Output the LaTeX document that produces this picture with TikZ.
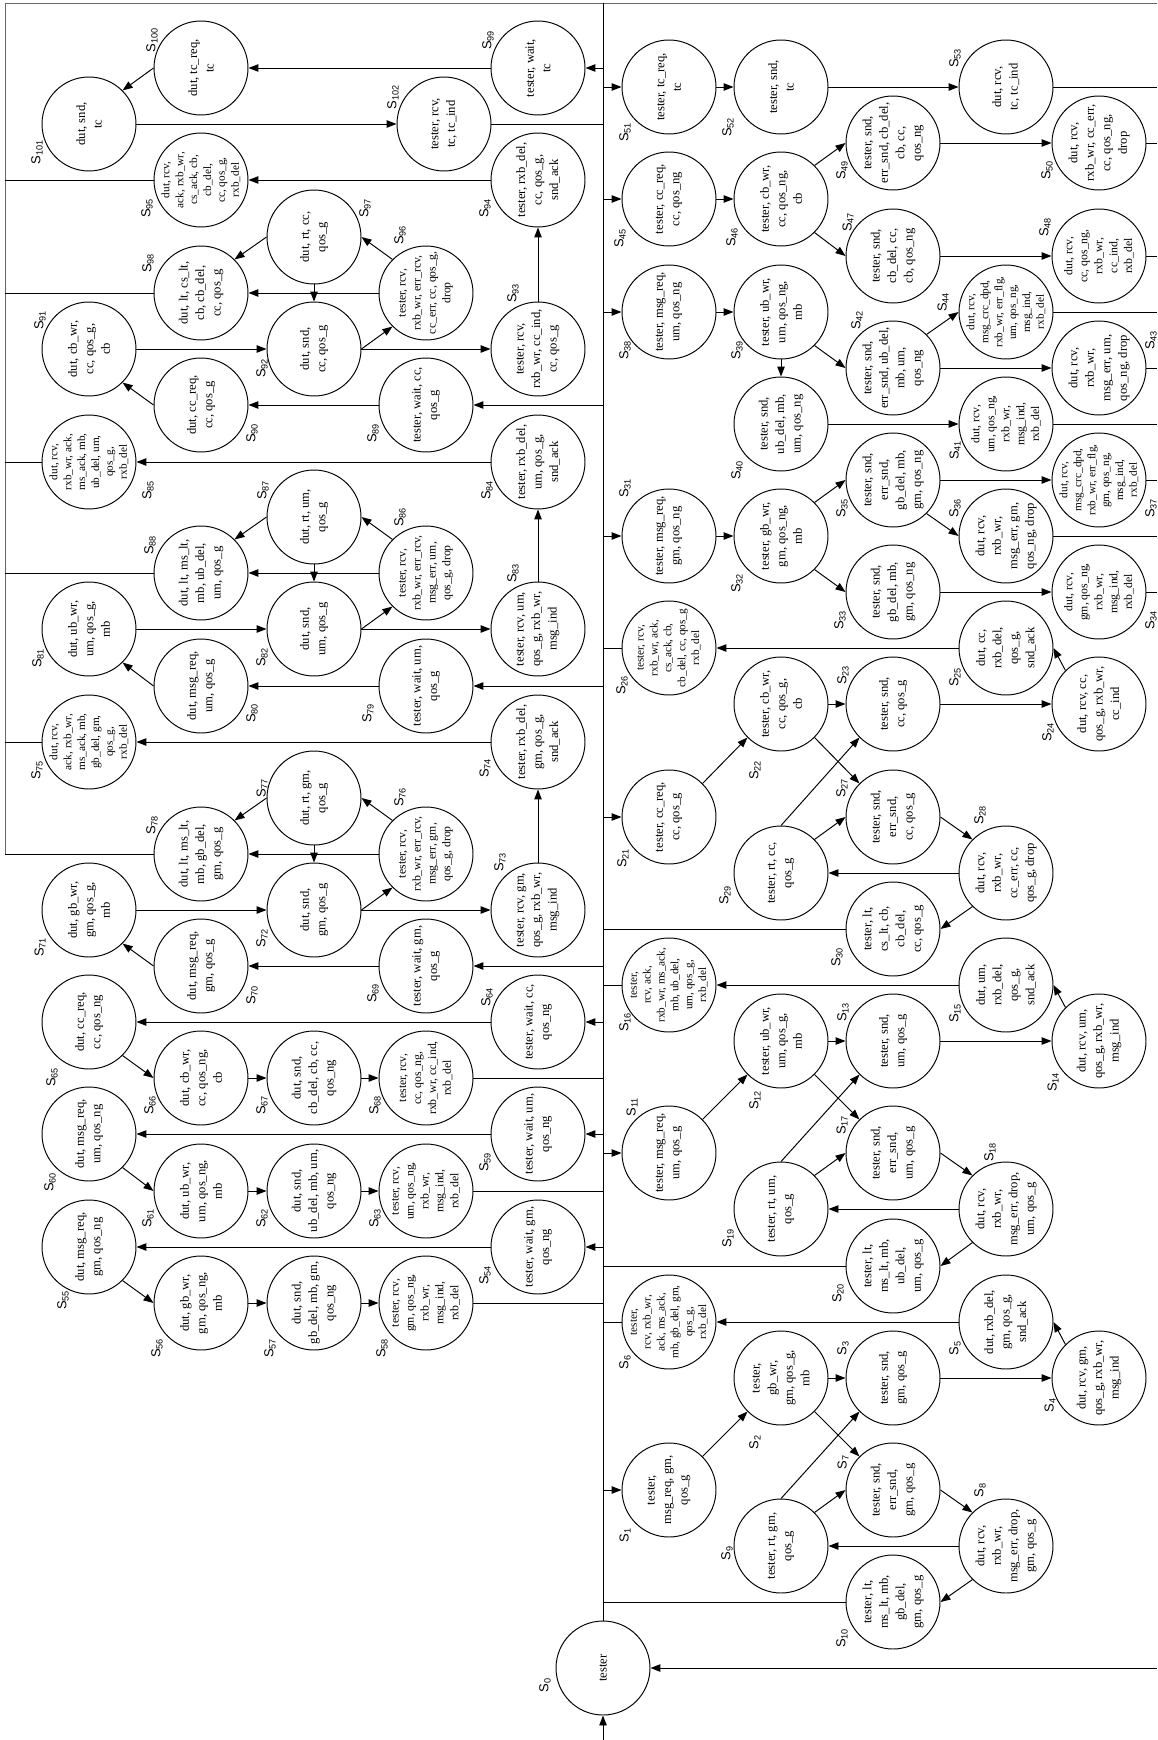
\documentclass[tikz,border=0pt]{standalone}
\usepackage{fontspec}
\setmainfont{Liberation Serif}
\setsansfont{Liberation Sans}
\usetikzlibrary{arrows.meta}

\begin{document}
\begin{tikzpicture}[
      x=0.02cm, y=-0.02cm,
      line width=0.55pt,
      >={Triangle[length=0.2cm,width=0.15cm]},
      st/.style={circle, draw, minimum size=1.88cm, inner sep=0pt},
      rt/.style={rotate=90, align=center, inner sep=0pt, font=\fontsize{7.2}{9.4}\selectfont},
      rts/.style={rt, font=\fontsize{6.7}{8.5}\selectfont},
      rtt/.style={rt, font=\fontsize{6.4}{7.9}\selectfont},
      sl/.style={rotate=90, inner sep=0pt, font=\sffamily\fontsize{7.4}{8}\selectfont},
      frm/.style={draw=black!60}
    ]
    \useasboundingbox (0,0) rectangle (1157,1740);
    \coordinate (bus) at (603,3);
    \coordinate (lft) at (5,3);
    \coordinate (rgt) at (1157,3);
    \coordinate (entry) at (603,1740);

    % start state
    \node[st, label={[rt]center:tester}] (s0) at (603,1668) {};

    % tester side, qos_g
    \node[st, label={[rt]center:{tester,\\ msg\_req, gm,\\ qos\_g}}] (s1) at (669,1490) {};
    \node[st, label={[rt]center:{tester,\\ gb\_wr,\\ gm, qos\_g,\\ mb}}] (s2) at (781,1378) {};
    \node[st, label={[rt]center:{tester, snd,\\ gm, qos\_g}}] (s3) at (893,1378) {};
    \node[st, label={[rt]center:{dut, rcv, gm,\\ qos\_g, rxb\_wr,\\ msg\_ind}}] (s4) at (1099,1378) {};
    \node[st, label={[rt]center:{dut, rxb\_del,\\ gm, qos\_g,\\ snd\_ack}}] (s5) at (1006,1322) {};
    \node[st, label={[rtt]center:{tester,\\ rcv, rxb\_wr,\\ ack, ms\_ack,\\ mb, gb\_del, gm,\\ qos\_g,\\ rxb\_del}}] (s6) at (669,1322) {};
    \node[st, label={[rt]center:{tester, snd,\\ err\_snd,\\ gm, qos\_g}}] (s7) at (893,1490) {};
    \node[st, label={[rt]center:{dut, rcv,\\ rxb\_wr,\\ msg\_err, drop,\\ gm, qos\_g}}] (s8) at (1006,1546) {};
    \node[st, label={[rt]center:{tester, rt, gm,\\ qos\_g}}] (s9) at (781,1546) {};
    \node[st, label={[rt]center:{tester, lt,\\ ms\_lt, mb,\\ gb\_del,\\ gm, qos\_g}}] (s10) at (893,1602) {};

    \node[st, label={[rt]center:{tester, msg\_req,\\ um, qos\_g}}] (s11) at (669,1153) {};
    \node[st, label={[rt]center:{tester, ub\_wr,\\ um, qos\_g,\\ mb}}] (s12) at (781,1041) {};
    \node[st, label={[rt]center:{tester, snd,\\ um, qos\_g}}] (s13) at (893,1041) {};
    \node[st, label={[rt]center:{dut, rcv, um,\\ qos\_g, rxb\_wr,\\ msg\_ind}}] (s14) at (1099,1041) {};
    \node[st, label={[rt]center:{dut, um,\\ rxb\_del,\\ qos\_g,\\ snd\_ack}}] (s15) at (1006,985) {};
    \node[st, label={[rtt]center:{tester,\\ rcv, ack,\\ rxb\_wr, ms\_ack,\\ mb, ub\_del,\\ um, qos\_g,\\ rxb\_del}}] (s16) at (669,985) {};
    \node[st, label={[rt]center:{tester, snd,\\ err\_snd,\\ um, qos\_g}}] (s17) at (893,1153) {};
    \node[st, label={[rt]center:{dut, rcv,\\ rxb\_wr,\\ msg\_err, drop,\\ um, qos\_g}}] (s18) at (1006,1209) {};
    \node[st, label={[rt]center:{tester, rt, um,\\ qos\_g}}] (s19) at (781,1209) {};
    \node[st, label={[rt]center:{tester, lt,\\ ms\_lt, mb,\\ ub\_del,\\ um, qos\_g}}] (s20) at (893,1266) {};

    \node[st, label={[rt]center:{tester, cc\_req,\\ cc, qos\_g}}] (s21) at (669,817) {};
    \node[st, label={[rt]center:{tester, cb\_wr,\\ cc, qos\_g,\\ cb}}] (s22) at (781,704) {};
    \node[st, label={[rt]center:{tester, snd,\\ cc, qos\_g}}] (s23) at (893,704) {};
    \node[st, label={[rt]center:{dut, rcv, cc,\\ qos\_g, rxb\_wr,\\ cc\_ind}}] (s24) at (1099,704) {};
    \node[st, label={[rt]center:{dut, cc,\\ rxb\_del,\\ qos\_g,\\ snd\_ack}}] (s25) at (1006,648) {};
    \node[st, label={[rtt]center:{tester, rcv,\\ rxb\_wr, ack,\\ cs\_ack, cb,\\ cb\_del, cc, qos\_g\\ rxb\_del}}] (s26) at (669,648) {};
    \node[st, label={[rt]center:{tester, snd,\\ err\_snd,\\ cc, qos\_g}}] (s27) at (893,817) {};
    \node[st, label={[rt]center:{dut, rcv,\\ rxb\_wr,\\ cc\_err, cc,\\ qos\_g, drop}}] (s28) at (1006,873) {};
    \node[st, label={[rt]center:{tester, rt, cc,\\ qos\_g}}] (s29) at (781,873) {};
    \node[st, label={[rt]center:{tester, lt,\\ cs\_lt, cb,\\ cb\_del,\\ cc, qos\_g}}] (s30) at (893,929) {};

    % tester side, qos_ng
    \node[st, label={[rt]center:{tester, msg\_req,\\ gm, qos\_ng}}] (s31) at (669,536) {};
    \node[st, label={[rt]center:{tester, gb\_wr,\\ gm, qos\_ng,\\ mb}}] (s32) at (781,536) {};
    \node[st, label={[rt]center:{tester, snd,\\ gb\_del, mb,\\ gm, qos\_ng}}] (s33) at (893,592) {};
    \node[st, label={[rts]center:{dut, rcv,\\ gm, qos\_ng,\\ rxb\_wr,\\ msg\_ind,\\ rxb\_del}}] (s34) at (1099,592) {};
    \node[st, label={[rt]center:{tester, snd,\\ err\_snd,\\ gb\_del, mb,\\ gm, qos\_ng}}] (s35) at (893,480) {};
    \node[st, label={[rt]center:{dut, rcv,\\ rxb\_wr,\\ msg\_err, gm,\\ qos\_ng, drop}}] (s36) at (1006,536) {};
    \node[st, label={[rtt]center:{dut, rcv,\\ msg\_crc\_dpd,\\ rxb\_wr, err\_flg,\\ gm, qos\_ng,\\ msg\_ind,\\ rxb\_del}}] (s37) at (1099,480) {};
    \node[st, label={[rt]center:{tester, msg\_req,\\ um, qos\_ng}}] (s38) at (669,312) {};
    \node[st, label={[rt]center:{tester, ub\_wr,\\ um, qos\_ng,\\ mb}}] (s39) at (781,312) {};
    \node[st, label={[rt]center:{tester, snd,\\ ub\_del, mb,\\ um, qos\_ng}}] (s40) at (781,424) {};
    \node[st, label={[rts]center:{dut, rcv,\\ um, qos\_ng,\\ rxb\_wr,\\ msg\_ind,\\ rxb\_del}}] (s41) at (1006,424) {};
    \node[st, label={[rt]center:{tester, snd,\\ err\_snd, ub\_del,\\ mb, um,\\ qos\_ng}}] (s42) at (893,368) {};
    \node[st, label={[rt]center:{dut, rcv,\\ rxb\_wr,\\ msg\_err, um,\\ qos\_ng, drop}}] (s43) at (1099,368) {};
    \node[st, label={[rtt]center:{dut, rcv,\\ msg\_crc\_dpd,\\ rxb\_wr, err\_flg,\\ um, qos\_ng,\\ msg\_ind,\\ rxb\_del}}] (s44) at (1006,312) {};
    \node[st, label={[rt]center:{tester, cc\_req,\\ cc, qos\_ng}}] (s45) at (669,199) {};
    \node[st, label={[rt]center:{tester, cb\_wr,\\ cc, qos\_ng,\\ cb}}] (s46) at (781,199) {};
    \node[st, label={[rt]center:{tester, snd,\\ cb\_del, cc,\\ cb, qos\_ng}}] (s47) at (893,256) {};
    \node[st, label={[rts]center:{dut, rcv,\\ cc, qos\_ng,\\ rxb\_wr,\\ cc\_ind,\\ rxb\_del}}] (s48) at (1099,256) {};
    \node[st, label={[rt]center:{tester, snd,\\ err\_snd, cb\_del,\\ cb, cc,\\ qos\_ng}}] (s49) at (893,143) {};
    \node[st, label={[rt]center:{dut, rcv,\\ rxb\_wr, cc\_err,\\ cc, qos\_ng,\\ drop}}] (s50) at (1099,143) {};
    \node[st, label={[rt]center:{tester, tc\_req,\\ tc}}] (s51) at (669,87) {};
    \node[st, label={[rt]center:{tester, snd,\\ tc}}] (s52) at (781,87) {};
    \node[st, label={[rt]center:{dut, rcv,\\ tc, tc\_ind}}] (s53) at (1006,87) {};

    % dut side, qos_ng
    \node[st, label={[rt]center:{tester, wait, gm,\\ qos\_ng}}] (s54) at (538,1247) {};
    \node[st, label={[rt]center:{dut, msg\_req,\\ gm, qos\_ng}}] (s55) at (89,1247) {};
    \node[st, label={[rt]center:{dut, gb\_wr,\\ gm, qos\_ng,\\ mb}}] (s56) at (201,1303) {};
    \node[st, label={[rt]center:{dut, snd,\\ gb\_del, mb, gm,\\ qos\_ng}}] (s57) at (314,1303) {};
    \node[st, label={[rts]center:{tester, rcv,\\ gm, qos\_ng,\\ rxb\_wr,\\ msg\_ind,\\ rxb\_del}}] (s58) at (426,1303) {};
    \node[st, label={[rt]center:{tester, wait, um,\\ qos\_ng}}] (s59) at (538,1134) {};
    \node[st, label={[rt]center:{dut, msg\_req,\\ um, qos\_ng}}] (s60) at (89,1134) {};
    \node[st, label={[rt]center:{dut, ub\_wr,\\ um, qos\_ng,\\ mb}}] (s61) at (201,1191) {};
    \node[st, label={[rt]center:{dut, snd,\\ ub\_del, mb, um,\\ qos\_ng}}] (s62) at (314,1191) {};
    \node[st, label={[rts]center:{tester, rcv,\\ um, qos\_ng,\\ rxb\_wr,\\ msg\_ind,\\ rxb\_del}}] (s63) at (426,1191) {};
    \node[st, label={[rt]center:{tester, wait, cc,\\ qos\_ng}}] (s64) at (538,1022) {};
    \node[st, label={[rt]center:{dut, cc\_req,\\ cc, qos\_ng}}] (s65) at (89,1022) {};
    \node[st, label={[rt]center:{dut, cb\_wr,\\ cc, qos\_ng,\\ cb}}] (s66) at (201,1078) {};
    \node[st, label={[rt]center:{dut, snd,\\ cb\_del, cb, cc,\\ qos\_ng}}] (s67) at (314,1078) {};
    \node[st, label={[rts]center:{tester, rcv,\\ cc, qos\_ng,\\ rxb\_wr, cc\_ind,\\ rxb\_del}}] (s68) at (426,1078) {};

    % dut side, qos_g
    \node[st, label={[rt]center:{tester, wait, gm,\\ qos\_g}}] (s69) at (426,966) {};
    \node[st, label={[rt]center:{dut, msg\_req,\\ gm, qos\_g}}] (s70) at (201,966) {};
    \node[st, label={[rt]center:{dut, gb\_wr,\\ gm, qos\_g,\\ mb}}] (s71) at (89,910) {};
    \node[st, label={[rt]center:{dut, snd,\\ gm, qos\_g}}] (s72) at (314,910) {};
    \node[st, label={[rt]center:{tester, rcv, gm,\\ qos\_g, rxb\_wr,\\ msg\_ind}}] (s73) at (538,910) {};
    \node[st, label={[rt]center:{tester, rxb\_del,\\ gm, qos\_g,\\ snd\_ack}}] (s74) at (538,742) {};
    \node[st, label={[rtt]center:{dut, rcv,\\ ack, rxb\_wr,\\ ms\_ack, mb,\\ gb\_del, gm,\\ qos\_g,\\ rxb\_del}}] (s75) at (89,742) {};
    \node[st, label={[rts]center:{tester, rcv,\\ rxb\_wr, err\_rcv,\\ msg\_err, gm,\\ qos\_g, drop}}] (s76) at (426,854) {};
    \node[st, label={[rt]center:{dut, rt, gm,\\ qos\_g}}] (s77) at (314,798) {};
    \node[st, label={[rt]center:{dut, lt, ms\_lt,\\ mb, gb\_del,\\ gm, qos\_g}}] (s78) at (201,854) {};

    \node[st, label={[rt]center:{tester, wait, um,\\ qos\_g}}] (s79) at (426,686) {};
    \node[st, label={[rt]center:{dut, msg\_req,\\ um, qos\_g}}] (s80) at (201,686) {};
    \node[st, label={[rt]center:{dut, ub\_wr,\\ um, qos\_g,\\ mb}}] (s81) at (89,629) {};
    \node[st, label={[rt]center:{dut, snd,\\ um, qos\_g}}] (s82) at (314,629) {};
    \node[st, label={[rt]center:{tester, rcv, um,\\ qos\_g, rxb\_wr,\\ msg\_ind}}] (s83) at (538,629) {};
    \node[st, label={[rt]center:{tester, rxb\_del,\\ um, qos\_g,\\ snd\_ack}}] (s84) at (538,462) {};
    \node[st, label={[rtt]center:{dut, rcv,\\ rxb\_wr, ack,\\ ms\_ack, mb,\\ ub\_del, um,\\ qos\_g,\\ rxb\_del}}] (s85) at (89,462) {};
    \node[st, label={[rts]center:{tester, rcv,\\ rxb\_wr, err\_rcv,\\ msg\_err, um,\\ qos\_g, drop}}] (s86) at (426,573) {};
    \node[st, label={[rt]center:{dut, rt, um,\\ qos\_g}}] (s87) at (314,517) {};
    \node[st, label={[rt]center:{dut, lt, ms\_lt,\\ mb, ub\_del,\\ um, qos\_g}}] (s88) at (201,573) {};

    \node[st, label={[rt]center:{tester, wait, cc,\\ qos\_g}}] (s89) at (426,405) {};
    \node[st, label={[rt]center:{dut, cc\_req,\\ cc, qos\_g}}] (s90) at (201,405) {};
    \node[st, label={[rt]center:{dut, cb\_wr,\\ cc, qos\_g,\\ cb}}] (s91) at (89,349) {};
    \node[st, label={[rt]center:{dut, snd,\\ cc, qos\_g}}] (s92) at (314,349) {};
    \node[st, label={[rt]center:{tester, rcv,\\ rxb\_wr, cc\_ind,\\ cc, qos\_g}}] (s93) at (538,349) {};
    \node[st, label={[rt]center:{tester, rxb\_del,\\ cc, qos\_g,\\ snd\_ack}}] (s94) at (538,180) {};
    \node[st, label={[rtt]center:{dut, rcv,\\ ack, rxb\_wr,\\ cs\_ack, cb,\\ cb\_del,\\ cc, qos\_g,\\ rxb\_del}}] (s95) at (201,180) {};
    \node[st, label={[rts]center:{tester, rcv,\\ rxb\_wr, err\_rcv,\\ cc\_err, cc, qos\_g,\\ drop}}] (s96) at (426,293) {};
    \node[st, label={[rt]center:{dut, rt, cc,\\ qos\_g}}] (s97) at (314,237) {};
    \node[st, label={[rt]center:{dut, lt, cs\_lt,\\ cb, cb\_del,\\ cc, qos\_g}}] (s98) at (201,293) {};

    % tc
    \node[st, label={[rt]center:{tester, wait,\\ tc}}] (s99) at (538,68) {};
    \node[st, label={[rt]center:{dut, tc\_req,\\ tc}}] (s100) at (201,68) {};
    \node[st, label={[rt]center:{dut, snd,\\ tc}}] (s101) at (89,124) {};
    \node[st, label={[rt]center:{tester, rcv,\\ tc, tc\_ind}}] (s102) at (444,124) {};

    % state numbers
    \foreach \n/\x/\y in {0/545/1685, 1/625/1535, 2/755/1442, 3/843/1348, 4/1050/1405,
        5/955/1348, 6/625/1362, 7/843/1462, 8/980/1490, 9/727/1553, 10/842/1638,
        11/632/1107, 12/755/1100, 13/843/1012, 14/1053/1082, 15/955/1013, 16/625/1022,
        17/842/1125, 18/990/1152, 19/728/1238, 20/838/1293,
        21/623/858, 22/755/770, 23/843/675, 24/1048/732, 25/955/677, 26/622/685,
        27/842/788, 28/980/815, 29/725/895, 30/837/957,
        31/625/488, 32/737/583, 33/840/620, 34/1151/620, 35/842/508, 36/955/508,
        37/1151/508, 38/625/350, 39/737/350, 40/737/470, 41/955/450, 42/857/320,
        43/1151/340, 44/943/302, 45/620/238, 46/732/237, 47/848/222, 48/1045/227,
        49/842/170, 50/1047/170, 51/625/132, 52/728/127, 53/955/58,
        54/485/1275, 55/63/1300, 56/157/1348, 57/270/1348, 58/382/1348, 59/485/1162,
        60/50/1182, 61/148/1218, 62/262/1218, 63/375/1218, 64/487/997, 65/52/1077,
        66/150/1105, 67/262/1105, 68/375/1105, 69/373/993, 70/252/995, 71/40/947,
        72/262/938, 73/500/862, 74/485/768, 75/37/770, 76/400/797, 77/262/788,
        78/152/825, 79/368/713, 80/252/713, 81/38/658, 82/262/657, 83/513/573,
        84/487/490, 85/148/490, 86/400/517, 87/263/490, 88/150/545, 89/373/433,
        90/252/433, 91/40/320, 92/262/368, 93/513/293, 94/485/208, 95/147/208,
        96/400/235, 97/365/208, 98/148/263, 99/488/40, 100/152/40, 101/37/152,
        102/393/97}
      \node[sl] (l\n) at (\x,\y) {S\textsubscript{\n}};

    % bus, frame and start
    \draw[frm] (lft |- s78.west) -- (lft) -- (rgt);
    \draw (bus) -- (s0.north);
    \draw[->] (entry) -- (s0.south);
    \draw[->] (s0.east -| rgt) -- (s0.east);

    \foreach \n in {1,11,21,31,38,45,51}
      \draw[->] (s\n.west -| bus) -- (s\n.west);
    \foreach \n in {54,59,64,69,79,89,99}
      \draw[->] (s\n.east -| bus) -- (s\n.east);
    \foreach \n in {6,10,16,20,26,30}
      \draw (s\n.west) -- (s\n.west -| bus);
    \foreach \n in {58,63,68,102}
      \draw (s\n.east) -- (s\n.east -| bus);
    \foreach \n in {34,36,37,41,43,44,48,50,53}
      \draw (s\n.east) -- (s\n.east -| rgt);
    \foreach \n in {75,78,85,88,95,98}
      \draw (s\n.west) -- (s\n.west -| lft);

    % tester blocks, qos_g
    \foreach \o in {0,10,20}
      \foreach \a/\p/\b/\q in {1/north east/2/south west, 2/east/3/west, 2/south east/7/north west,
          3/east/4/west, 4/north west/5/east, 5/west/6/east, 9/north/3/south west,
          9/north east/7/west, 7/east/8/north west, 8/west/9/east, 8/south west/10/east} {
        \pgfmathtruncatemacro\fromn{\a+\o}
        \pgfmathtruncatemacro\ton{\b+\o}
        \draw[->] (s\fromn.\p) -- (s\ton.\q);
      }

    % dut blocks, qos_g
    \foreach \o in {0,10,20}
      \foreach \a/\p/\b/\q in {89/west/90/east, 90/west/91/south east, 91/east/92/west,
          92/east/93/west, 92/east/96/south west, 96/north west/97/east, 96/west/98/east,
          97/west/98/north east, 97/south/92/north, 93/north/94/south, 94/west/95/east} {
        \pgfmathtruncatemacro\fromn{\a-\o}
        \pgfmathtruncatemacro\ton{\b-\o}
        \draw[->] (s\fromn.\p) -- (s\ton.\q);
      }

    % dut blocks, qos_ng
    \foreach \o in {0,5,10}
      \foreach \a/\p/\b/\q in {64/west/65/east, 65/south east/66/west, 66/east/67/west,
          67/east/68/west} {
        \pgfmathtruncatemacro\fromn{\a-\o}
        \pgfmathtruncatemacro\ton{\b-\o}
        \draw[->] (s\fromn.\p) -- (s\ton.\q);
      }

    % tester blocks, qos_ng, and tc
    \foreach \a/\b in {s31.east/s32.west, s32.north east/s35.west, s32.south east/s33.west,
        s35.east/s37.west, s35.south east/s36.west, s33.east/s34.west,
        s38.east/s39.west, s39.south/s40.north, s39.south east/s42.west,
        s42.north east/s44.west, s42.east/s43.west, s40.east/s41.west,
        s45.east/s46.west, s46.north east/s49.west, s46.south east/s47.west,
        s49.east/s50.west, s47.east/s48.west, s51.east/s52.west, s52.east/s53.west,
        s99.west/s100.east, s100.west/s101.north east, s101.east/s102.west}
      \draw[->] (\a) -- (\b);
  \end{tikzpicture}
\end{document}
